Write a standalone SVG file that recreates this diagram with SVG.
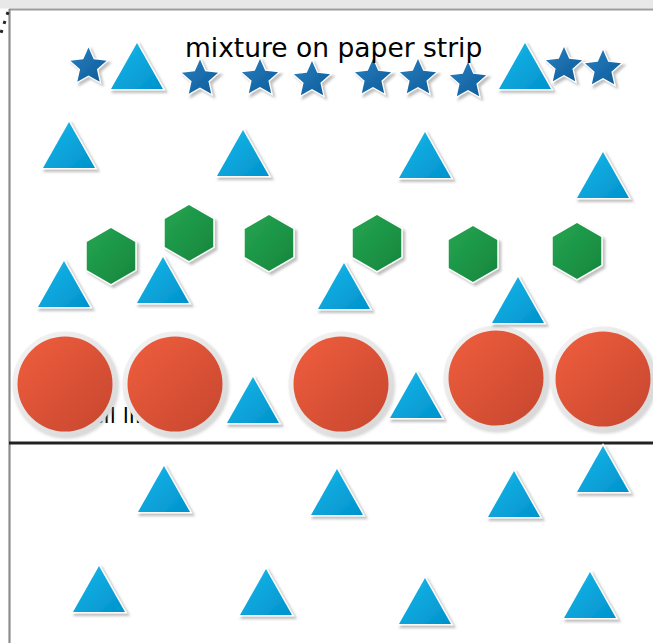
<svg xmlns="http://www.w3.org/2000/svg" xmlns:xlink="http://www.w3.org/1999/xlink" width="653" height="643" viewBox="0 0 653 643">
<style>
.tri{fill:url(#gTri);stroke:#fff;stroke-width:3;stroke-linejoin:miter;paint-order:stroke;filter:url(#sh)}
.star{fill:url(#gStar);stroke:#fff;stroke-width:2.5;stroke-linejoin:miter;paint-order:stroke;filter:url(#sh)}
.hex{fill:url(#gHex);stroke:#fff;stroke-width:3;paint-order:stroke;filter:url(#sh)}
.ring{fill:url(#gRing);filter:url(#sh2)}
.dot{fill:url(#gDot)}
.lbl{font-family:"DejaVu Sans",sans-serif;fill:#000}
</style>
<defs>
<linearGradient id="gTri" x1="0" y1="0" x2="1" y2="1"><stop offset="0" stop-color="#1ab8ea"/><stop offset="1" stop-color="#0092cc"/></linearGradient>
<linearGradient id="gStar" x1="0" y1="0" x2="1" y2="1"><stop offset="0" stop-color="#2a80c0"/><stop offset="1" stop-color="#0c5a98"/></linearGradient>
<linearGradient id="gHex" x1="0" y1="0" x2="1" y2="1"><stop offset="0" stop-color="#24a552"/><stop offset="1" stop-color="#16863c"/></linearGradient>
<linearGradient id="gDot" x1="0" y1="0" x2="1" y2="1"><stop offset="0" stop-color="#f05e3e"/><stop offset="1" stop-color="#c6462e"/></linearGradient>
<linearGradient id="gRing" x1="0" y1="0" x2="1" y2="1"><stop offset="0" stop-color="#f6f6f6"/><stop offset="1" stop-color="#d4d4d4"/></linearGradient>
<filter id="sh" x="-30%" y="-30%" width="160%" height="160%"><feDropShadow dx="2.5" dy="2.5" stdDeviation="1.2" flood-color="#8c8c8c" flood-opacity="0.55"/></filter>
<filter id="sh2" x="-20%" y="-20%" width="140%" height="140%"><feDropShadow dx="1.5" dy="2" stdDeviation="1.5" flood-color="#999" flood-opacity="0.4"/></filter>
<path id="T" d="M0,0 L26,46 L-26,46 Z"/>
<path id="S" d="M0,-19 L5.2,-7.2 L18.07,-5.87 L8.4,2.73 L11.17,15.37 L0,8.9 L-11.17,15.37 L-8.4,2.73 L-18.07,-5.87 L-5.2,-7.2 Z"/>
<path id="H" d="M0,-28 L24.25,-14 L24.25,14 L0,28 L-24.25,14 L-24.25,-14 Z"/>
</defs>
<rect width="653" height="643" fill="#fff"/>
<g id="frame">
<rect x="0" y="0" width="653" height="8.5" fill="#e8e8e8"/>
<line x1="9" y1="9.5" x2="653" y2="9.5" stroke="#9c9c9c" stroke-width="2"/>
<line x1="9.5" y1="9" x2="9.5" y2="643" stroke="#8c8c8c" stroke-width="2.2"/>
<line x1="8" y1="12" x2="0" y2="36" stroke="#222" stroke-width="3" stroke-dasharray="3,6.5"/>
</g>
<text class="lbl" x="50" y="423" font-size="22">pencil line</text>
<g id="connectors">
<line x1="9" y1="443" x2="653" y2="443" stroke="#222" stroke-width="3"/>
</g>
<g id="circles">
<g id="c1"><circle class="ring" cx="65" cy="384" r="52.5"/><circle class="dot" cx="65" cy="384" r="47.5"/></g>
<g id="c2"><circle class="ring" cx="175" cy="384" r="52.5"/><circle class="dot" cx="175" cy="384" r="47.5"/></g>
<g id="c3"><circle class="ring" cx="341" cy="384" r="52.5"/><circle class="dot" cx="341" cy="384" r="47.5"/></g>
<g id="c4"><circle class="ring" cx="496" cy="378" r="52.5"/><circle class="dot" cx="496" cy="378" r="47.5"/></g>
<g id="c5"><circle class="ring" cx="603" cy="379" r="52.5"/><circle class="dot" cx="603" cy="379" r="47.5"/></g>
</g>
<g id="hexagons">
<use id="h1" class="hex" href="#H" x="111" y="256"/>
<use id="h2" class="hex" href="#H" x="189" y="233"/>
<use id="h3" class="hex" href="#H" x="269" y="243"/>
<use id="h4" class="hex" href="#H" x="377" y="243"/>
<use id="h5" class="hex" href="#H" x="473" y="254"/>
<use id="h6" class="hex" href="#H" x="577" y="251"/>
</g>
<g id="triangles">
<use id="t1" class="tri" href="#T" x="137" y="43"/>
<use id="t2" class="tri" href="#T" x="525" y="43"/>
<use id="t3" class="tri" href="#T" x="69" y="122"/>
<use id="t4" class="tri" href="#T" x="243" y="130"/>
<use id="t5" class="tri" href="#T" x="425" y="132"/>
<use id="t6" class="tri" href="#T" x="603" y="152"/>
<use id="t7" class="tri" href="#T" x="64" y="261"/>
<use id="t8" class="tri" href="#T" x="163" y="257"/>
<use id="t9" class="tri" href="#T" x="344" y="263"/>
<use id="t10" class="tri" href="#T" x="518" y="277"/>
<use id="t11" class="tri" href="#T" x="253" y="377"/>
<use id="t12" class="tri" href="#T" x="416" y="372"/>
<use id="t13" class="tri" href="#T" x="164" y="466"/>
<use id="t14" class="tri" href="#T" x="337" y="469"/>
<use id="t15" class="tri" href="#T" x="514" y="471"/>
<use id="t16" class="tri" href="#T" x="603" y="446"/>
<use id="t17" class="tri" href="#T" x="99" y="566"/>
<use id="t18" class="tri" href="#T" x="266" y="569"/>
<use id="t19" class="tri" href="#T" x="425" y="578"/>
<use id="t20" class="tri" href="#T" x="590" y="572"/>
</g>
<g id="stars">
<use id="s1" class="star" href="#S" x="88.5" y="66.5"/>
<use id="s2" class="star" href="#S" x="200" y="78.5"/>
<use id="s3" class="star" href="#S" x="260" y="78"/>
<use id="s4" class="star" href="#S" x="312" y="80"/>
<use id="s5" class="star" href="#S" x="373" y="78"/>
<use id="s6" class="star" href="#S" x="418" y="78"/>
<use id="s7" class="star" href="#S" x="468" y="81"/>
<use id="s8" class="star" href="#S" x="564" y="66"/>
<use id="s9" class="star" href="#S" x="603" y="69"/>
</g>
<g id="title"><text class="lbl" x="185" y="57" font-size="26.5">mixture on paper strip</text></g>
</svg>
